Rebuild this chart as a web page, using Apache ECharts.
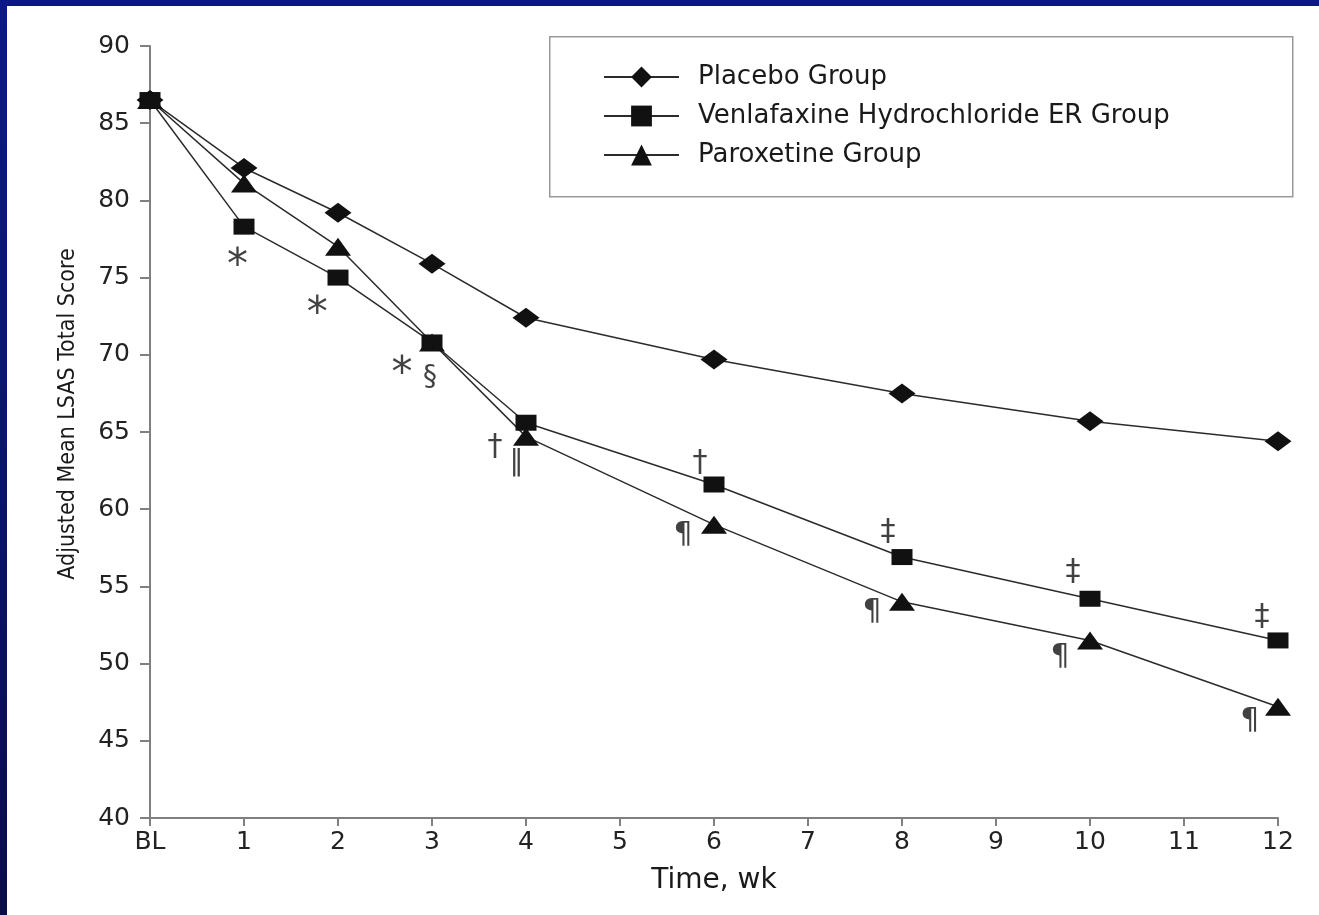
<!DOCTYPE html>
<html>
<head>
<meta charset="utf-8">
<script src="https://cdn.jsdelivr.net/npm/echarts@6/dist/echarts.min.js"></script>
<style>
  html, body { margin: 0; padding: 0; width: 1319px; height: 915px; overflow: hidden; }
  body { background: linear-gradient(180deg, #0c1888 0%, #0b1470 45%, #0a0c48 100%); position: relative; }
  #chart { position: absolute; left: 7px; top: 6px; width: 1312px; height: 909px; background: #ffffff; }
</style>
</head>
<body>
<div id="chart"></div>
<script>
// ---- data ----
const weeks = [0, 1, 2, 3, 4, 6, 8, 10, 12];
const placebo = [86.5, 82.1, 79.2, 75.9, 72.4, 69.7, 67.5, 65.7, 64.4];
const venlafaxine = [86.5, 78.3, 75.0, 70.8, 65.6, 61.6, 56.9, 54.2, 51.5];
const paroxetine = [86.5, 81.1, 77.0, 70.8, 64.7, 59.0, 54.0, 51.5, 47.2];
const seriesNames = ['Placebo Group', 'Venlafaxine Hydrochloride ER Group', 'Paroxetine Group'];
const xTickLabels = ['BL', '1', '2', '3', '4', '5', '6', '7', '8', '9', '10', '11', '12'];
const yTicks = [40, 45, 50, 55, 60, 65, 70, 75, 80, 85, 90];
// significance marks: week position, score position, symbol
const annotX = [0.93, 1.78, 2.68, 2.98, 3.67, 3.90, 5.85, 7.85, 9.82, 11.83, 5.67, 7.68, 9.68, 11.70];
const annotY = [76.4, 73.3, 69.4, 68.5, 64.0, 63.0, 63.0, 58.5, 55.9, 53.0, 58.3, 53.3, 50.4, 46.3];
const annotText = ['*', '*', '*', '§', '†', '‖', '†', '‡', '‡', '‡', '¶', '¶', '¶', '¶'];

const pairs = arr => weeks.map((w, i) => [w, arr[i]]);

const chart = echarts.init(document.getElementById('chart'), null, { renderer: 'canvas' });
const lineColor = '#2b2b2b';
const markColor = '#111111';
const font = '"DejaVu Sans", "Liberation Sans", Arial, sans-serif';

function lineSeries(name, data, symbol, size) {
  return {
    name: name,
    type: 'line',
    data: pairs(data),
    symbol: symbol,
    symbolSize: size,
    showAllSymbol: true,
    lineStyle: { color: lineColor, width: 1.5 },
    itemStyle: { color: markColor, borderWidth: 0 },
    emphasis: { disabled: true },
    z: 3
  };
}

// per-glyph label styling (size / vertical nudge only)
function markLabel(t) {
  if (t === '*') return { fontSize: 42, offset: [0, 11] };
  if (t === '¶') return { fontSize: 30, offset: [0, 0] };
  if (t === '§') return { fontSize: 28, offset: [0, 0] };
  if (t === '‖') return { fontSize: 28, offset: [0, 0] };
  return { fontSize: 30, offset: [0, 0] };
}

const option = {
  animation: false,
  backgroundColor: '#ffffff',
  grid: { left: 143, right: 41, top: 40, bottom: 97, containLabel: false },
  graphic: [{
    type: 'rect',
    left: 542, top: 30,
    shape: { width: 743, height: 160 },
    style: { fill: '#ffffff', stroke: '#9a9a9a', lineWidth: 1.5 },
    z: 0
  }],
  legend: {
    data: seriesNames,
    orient: 'vertical',
    left: 596,
    top: 58,
    itemWidth: 75,
    itemHeight: 26,
    itemGap: 13,
    padding: 0,
    selectedMode: false,
    textStyle: { fontFamily: font, fontSize: 26, color: '#1a1a1a', padding: [0, 0, 0, 14] },
    z: 5
  },
  xAxis: {
    type: 'value',
    min: 0, max: 12, interval: 1,
    name: 'Time, wk',
    nameLocation: 'middle',
    nameGap: 49,
    nameTextStyle: { fontFamily: font, fontSize: 28, color: '#1a1a1a' },
    axisLine: { lineStyle: { color: '#808080', width: 2 } },
    axisTick: { show: true, length: 8, inside: false, lineStyle: { color: '#808080', width: 2 } },
    axisLabel: {
      margin: 12, fontFamily: font, fontSize: 25, color: '#222',
      formatter: v => xTickLabels[Math.round(v)]
    },
    splitLine: { show: false }
  },
  yAxis: {
    type: 'value',
    min: 40, max: 90, interval: 5,
    name: 'Adjusted Mean LSAS Total Score',
    nameLocation: 'middle',
    nameGap: 70,
    nameTextStyle: {
      fontFamily: '"Liberation Sans Narrow", "DejaVu Sans Condensed", "Liberation Sans", sans-serif',
      fontSize: 23, color: '#1a1a1a', padding: [0, 0, 0, 36]
    },
    axisLine: { show: true, lineStyle: { color: '#808080', width: 2 } },
    axisTick: { show: true, length: 10, inside: false, lineStyle: { color: '#808080', width: 2 } },
    axisLabel: {
      margin: 20, fontFamily: font, fontSize: 25, color: '#222',
      formatter: v => (yTicks.indexOf(v) >= 0 ? String(v) : '')
    },
    splitLine: { show: false }
  },
  series: [
    lineSeries(seriesNames[0], placebo, 'diamond', [27, 20]),
    lineSeries(seriesNames[1], venlafaxine, 'rect', [21, 16]),
    lineSeries(seriesNames[2], paroxetine, 'triangle', [26, 18]),
    {
      name: 'marks',
      type: 'scatter',
      data: annotX.map((x, i) => ({ value: [x, annotY[i]], label: markLabel(annotText[i]) })),
      symbolSize: 1,
      itemStyle: { color: 'rgba(0,0,0,0)' },
      silent: true,
      z: 6,
      label: {
        show: true,
        position: 'inside',
        fontFamily: font,
        fontSize: 28,
        color: '#111',
        formatter: p => annotText[p.dataIndex]
      }
    }
  ]
};
chart.setOption(option);
</script>
</body>
</html>
